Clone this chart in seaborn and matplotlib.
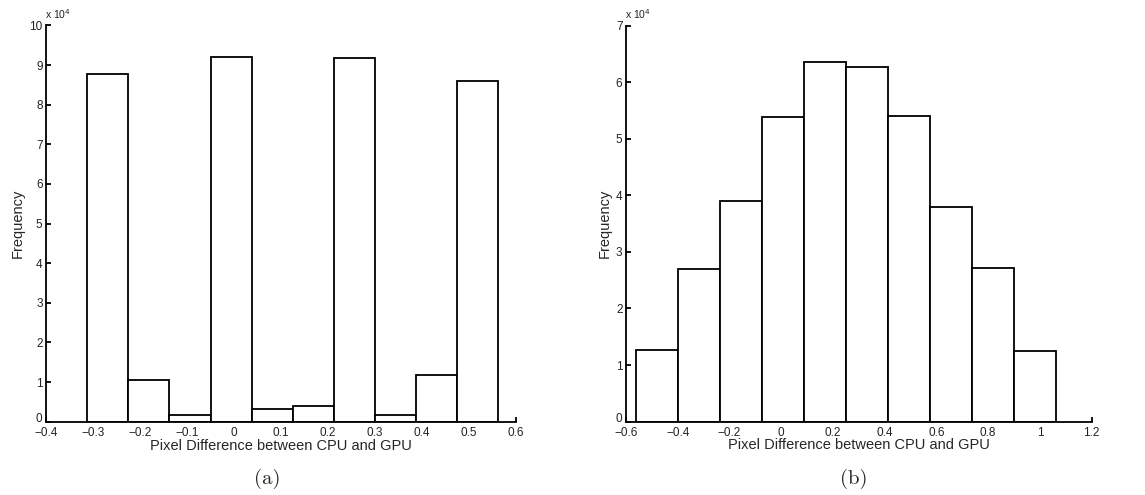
import numpy as np
import pandas as pd
import matplotlib
matplotlib.use("Agg")
import matplotlib.pyplot as plt
import matplotlib.transforms as mtransforms
import seaborn as sns

# ---- data ----
left_edges = [-0.3125, -0.225, -0.1375, -0.05, 0.0375, 0.125, 0.2125, 0.3, 0.3875, 0.475, 0.5625]
left_counts = [87700, 10500, 1800, 92100, 3300, 4000, 91800, 1600, 11700, 86000]
left_xticks = [-0.4, -0.3, -0.2, -0.1, 0, 0.1, 0.2, 0.3, 0.4, 0.5, 0.6]
left_xlabels = ["\u22120.4", "\u22120.3", "\u22120.2", "\u22120.1", "0", "0.1", "0.2", "0.3", "0.4", "0.5", "0.6"]
left_yticks = [0, 1, 2, 3, 4, 5, 6, 7, 8, 9, 10]

right_edges = [-0.5625, -0.4, -0.2375, -0.075, 0.0875, 0.25, 0.4125, 0.575, 0.7375, 0.9, 1.0625]
right_counts = [12700, 26900, 39000, 53800, 63600, 62600, 54000, 38000, 27100, 12500]
right_xticks = [-0.6, -0.4, -0.2, 0, 0.2, 0.4, 0.6, 0.8, 1, 1.2]
right_xlabels = ["\u22120.6", "\u22120.4", "\u22120.2", "0", "0.2", "0.4", "0.6", "0.8", "1", "1.2"]
right_yticks = [0, 1, 2, 3, 4, 5, 6, 7]

xlabel = "Pixel Difference between CPU and GPU"
ylabel = "Frequency"
captions = ["(a)", "(b)"]

sns.set_theme(style="ticks")
plt.rcParams["font.family"] = ["Liberation Sans", "DejaVu Sans"]
plt.rcParams["axes.unicode_minus"] = True

fig = plt.figure(figsize=(11.45, 4.95), dpi=100)
axL = fig.add_axes([0.0402, 0.1481, 0.4105, 0.8006])
axR = fig.add_axes([0.5467, 0.1483, 0.4067, 0.8000])


def draw(ax, edges, counts, xticks, xlabels, yticks, xlim, caption, cap_x):
    e = np.asarray(edges)
    centers = list((e[:-1] + e[1:]) / 2)
    df = pd.DataFrame({"x": centers, "w": list(counts)})
    sns.histplot(data=df, x="x", weights="w", bins=list(edges), ax=ax,
                 stat="count", element="bars", fill=True, color="white",
                 alpha=1, edgecolor="black", linewidth=1.3)
    ax.set_xlim(*xlim)
    ax.set_ylim(0, yticks[-1] * 1e4)
    ax.set_xticks(xticks)
    ax.set_xticklabels(xlabels)
    ax.set_yticks([t * 1e4 for t in yticks])
    ax.set_yticklabels([str(t) for t in yticks])
    for s in ["top", "right"]:
        ax.spines[s].set_visible(False)
    for s in ["left", "bottom"]:
        ax.spines[s].set_linewidth(1.3)
        ax.spines[s].set_color("black")
    ax.tick_params(direction="in", length=3.5, width=1.3, labelsize=8.5,
                   colors="black", labelcolor="#222222")
    ax.tick_params(axis="x", pad=4)
    ax.tick_params(axis="y", pad=2.5)
    # lift the y "0" label a little so it clears the first x label
    lab0 = ax.get_yticklabels()[0]
    lab0.set_transform(lab0.get_transform() +
                       mtransforms.ScaledTranslation(0, 3 / 72, fig.dpi_scale_trans))
    ax.set_xlabel(xlabel, fontsize=10.5, labelpad=-0.5)
    ax.set_ylabel(ylabel, fontsize=10.5, labelpad=3)
    ax.text(-0.002, 1.012, r"x 10$^{4}$", transform=ax.transAxes, fontsize=7.5,
            ha="left", va="bottom", color="#222222")
    ax.text(cap_x, -0.145, caption, transform=ax.transAxes, fontsize=15,
            ha="center", va="center", family="cmr10")
    ax.set_facecolor("white")


draw(axL, left_edges, left_counts, left_xticks, left_xlabels, left_yticks, (-0.4, 0.6), captions[0], 0.47)
draw(axR, right_edges, right_counts, right_xticks, right_xlabels, right_yticks, (-0.6, 1.2), captions[1], 0.49)

fig.savefig("out.png", dpi=100, facecolor="white")
